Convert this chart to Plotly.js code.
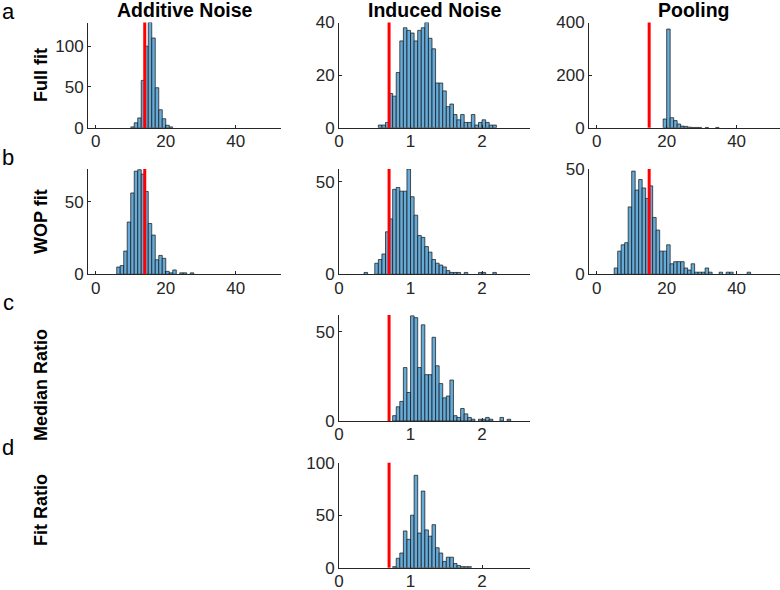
<!DOCTYPE html>
<html>
<head>
<meta charset="utf-8">
<script src="https://cdn.plot.ly/plotly-3.0.1.min.js"></script>
<style>
html,body{margin:0;padding:0;background:#ffffff;}
#chart{width:780px;height:590px;}
</style>
</head>
<body>
<div id="chart"></div>
<script>
// ---------------- DATA (bin lower edges and counts) ----------------
const additiveFullEdges  = [10,11,12,13,14,15,16,17,18,19,20,21];
const additiveFullCounts = [1,6,12,58,100,129,110,49,22,11,3,1];

const additiveWopEdges  = [6,7,8,9,10,11,12,13,14,15,16,17,18,19,20,21,22,23,24,25,26,27];
const additiveWopCounts = [5,6,16,36,56,71,72,69,57,35,27,10,13,11,2,1,3,0,1,1,0,1];

const poolingFullEdges  = [19,20,21,22,23,24,25,26,27,28,29,31,34];
const poolingFullCounts = [33,375,38,27,14,6,5,2,1,1,1,1,1];

const poolingWopEdges  = [5,6,7,8,9,10,11,12,13,14,15,16,17,18,19,20,21,22,23,24,25,26,27,28,29,30,31,32,35,37,38,43];
const poolingWopCounts = [3,11,14,15,32,49,40,45,41,36,42,27,21,11,11,14,5,6,6,6,3,2,5,1,1,1,3,1,1,1,1,1];

const inducedFullEdges  = [0.55,0.60,0.65,0.70,0.75,0.80,0.85,0.90,0.95,1.00,1.05,1.10,1.15,1.20,1.25,1.30,1.35,1.40,1.45,1.50,1.55,1.60,1.65,1.70,1.75,1.80,1.85,1.90,1.95,2.00,2.05,2.10,2.15];
const inducedFullCounts = [1,1,2,13,12,21,33,38,37,36,33,37,38,40,34,30,17,17,14,8,9,5,3,5,2,2,5,1,2,3,2,1,1];

const inducedWopEdges  = [0.35,0.50,0.55,0.60,0.65,0.70,0.75,0.80,0.85,0.90,0.95,1.00,1.05,1.10,1.15,1.20,1.25,1.30,1.35,1.40,1.45,1.50,1.55,1.60,1.65,1.75,1.95,2.00,2.15];
const inducedWopCounts = [1,6,8,11,23,30,46,47,45,45,57,42,32,21,20,15,12,8,6,5,4,2,1,1,1,1,1,1,1];

const medianRatioEdges  = [0.75,0.80,0.85,0.90,0.95,1.00,1.05,1.10,1.15,1.20,1.25,1.30,1.35,1.40,1.45,1.50,1.55,1.60,1.65,1.70,1.75,1.80,1.85,1.95,2.00,2.05,2.10,2.25,2.35];
const medianRatioCounts = [3,8,11,30,16,59,58,30,54,26,26,47,31,21,13,14,23,3,2,7,4,2,1,1,1,2,1,2,1];

const fitRatioEdges  = [0.75,0.80,0.85,0.90,0.95,1.00,1.05,1.10,1.15,1.20,1.25,1.30,1.35,1.40,1.45,1.50,1.55,1.60,1.65,1.70,1.75,1.80];
const fitRatioCounts = [1,9,14,35,27,50,88,33,73,36,30,41,19,14,6,10,10,4,2,1,1,1];

const trueValues = {additive: 14, induced: 0.7, pooling: 15};

const columnTitles = ['Additive Noise', 'Induced Noise', 'Pooling'];
const rowLabels = ['Full fit', 'WOP fit', 'Median Ratio', 'Fit Ratio'];
const rowLetters = ['a', 'b', 'c', 'd'];

// ---------------- LAYOUT GEOMETRY ----------------
const W = 780, H = 590;
const colPx = [[88, 281], [339, 530], [589, 780]];
const rowPx = [[22.5, 127.7], [169, 274.3], [315, 421], [462.7, 567.7]];
const xd = c => [colPx[c][0] / W, colPx[c][1] / W];
const yd = r => [1 - rowPx[r][1] / H, 1 - rowPx[r][0] / H];

const FONT = '"Liberation Sans", Arial, Helvetica, sans-serif';
const INK = '#262626';
const BAR = 'rgb(102,170,215)';

const panels = [
  {edges: additiveFullEdges, counts: additiveFullCounts, w: 1, col: 0, row: 0, xr: [-2.2, 52.9], xt: [0,20,40], yr: [0,129], yt: [0,50,100], tv: trueValues.additive},
  {edges: inducedFullEdges,  counts: inducedFullCounts,  w: 0.05, col: 1, row: 0, xr: [0, 2.67], xt: [0,1,2], yr: [0,40], yt: [0,20,40], tv: trueValues.induced},
  {edges: poolingFullEdges,  counts: poolingFullCounts,  w: 1, col: 2, row: 0, xr: [-2.2, 52.4], xt: [0,20,40], yr: [0,400], yt: [0,200,400], tv: trueValues.pooling},
  {edges: additiveWopEdges,  counts: additiveWopCounts,  w: 1, col: 0, row: 1, xr: [-2.2, 52.9], xt: [0,20,40], yr: [0,72.5], yt: [0,50], tv: trueValues.additive},
  {edges: inducedWopEdges,   counts: inducedWopCounts,   w: 0.05, col: 1, row: 1, xr: [0, 2.67], xt: [0,1,2], yr: [0,57], yt: [0,50], tv: trueValues.induced},
  {edges: poolingWopEdges,   counts: poolingWopCounts,   w: 1, col: 2, row: 1, xr: [-2.2, 52.4], xt: [0,20,40], yr: [0,50], yt: [0,50], tv: trueValues.pooling},
  {edges: medianRatioEdges,  counts: medianRatioCounts,  w: 0.05, col: 1, row: 2, xr: [0, 2.67], xt: [0,1,2], yr: [0,59.5], yt: [0,50], tv: trueValues.induced},
  {edges: fitRatioEdges,     counts: fitRatioCounts,     w: 0.05, col: 1, row: 3, xr: [0, 2.67], xt: [0,1,2], yr: [0,100], yt: [0,50,100], tv: trueValues.induced}
];

const data = [];
const shapes = [];
const layout = {
  width: W, height: H,
  margin: {l: 0, r: 0, t: 0, b: 0},
  paper_bgcolor: '#ffffff', plot_bgcolor: 'rgba(0,0,0,0)',
  showlegend: false,
  font: {family: FONT, color: INK, size: 17},
  bargap: 0
};

panels.forEach((p, i) => {
  const n = i + 1;
  const xa = 'x' + (n === 1 ? '' : n);
  const ya = 'y' + (n === 1 ? '' : n);
  const xs = [], ys = [];
  p.edges.forEach((e, k) => { if (p.counts[k] > 0) { xs.push(e); ys.push(p.counts[k]); } });
  data.push({
    type: 'bar', x: xs, y: ys, width: p.w, offset: 0,
    xaxis: xa, yaxis: ya,
    marker: {color: BAR, line: {color: '#111111', width: 0.7}},
    hoverinfo: 'skip'
  });
  const axCommon = {
    showgrid: false, zeroline: false, showline: true, linecolor: INK, linewidth: 1,
    ticks: 'inside', ticklen: 3, tickwidth: 1, tickcolor: INK,
    tickfont: {family: FONT, size: 17, color: INK}, fixedrange: true
  };
  layout['xaxis' + (n === 1 ? '' : n)] = Object.assign({}, axCommon, {
    domain: xd(p.col), range: p.xr, tickmode: 'array', tickvals: p.xt,
    anchor: ya, ticklabelstandoff: -2
  });
  layout['yaxis' + (n === 1 ? '' : n)] = Object.assign({}, axCommon, {
    domain: yd(p.row), range: p.yr, tickmode: 'array', tickvals: p.yt,
    anchor: xa
  });
  shapes.push({
    type: 'line', xref: xa, yref: ya + ' domain',
    x0: p.tv, x1: p.tv, y0: 0, y1: 1,
    line: {color: '#ff0000', width: 3}, layer: 'above'
  });
});
layout.shapes = shapes;

const ann = [];
// column titles
columnTitles.forEach((t, c) => {
  ann.push({text: '<b>' + t + '</b>', xref: 'paper', yref: 'paper',
    x: (colPx[c][0] + colPx[c][1]) / 2 / W + (c === 2 ? 0.012 : 0), y: 1 - 10.5 / H,
    xanchor: 'center', yanchor: 'middle', showarrow: false,
    font: {family: FONT, size: 19.5, color: '#000000'}});
});
// row letters
const letterY = [11, 157, 302, 447];
rowLetters.forEach((t, r) => {
  ann.push({text: t, xref: 'paper', yref: 'paper', x: 8 / W, y: 1 - letterY[r] / H,
    xanchor: 'center', yanchor: 'middle', showarrow: false,
    font: {family: FONT, size: 22, color: '#000000'}});
});
// row labels
const labelY = [75, 222, 385, 510];
rowLabels.forEach((t, r) => {
  ann.push({text: '<b>' + t + '</b>', xref: 'paper', yref: 'paper', x: 41 / W, y: 1 - labelY[r] / H,
    xanchor: 'center', yanchor: 'middle', textangle: -90, showarrow: false,
    font: {family: FONT, size: 18, color: '#000000'}});
});
layout.annotations = ann;

Plotly.newPlot('chart', data, layout, {displayModeBar: false, staticPlot: true});
</script>
</body>
</html>
